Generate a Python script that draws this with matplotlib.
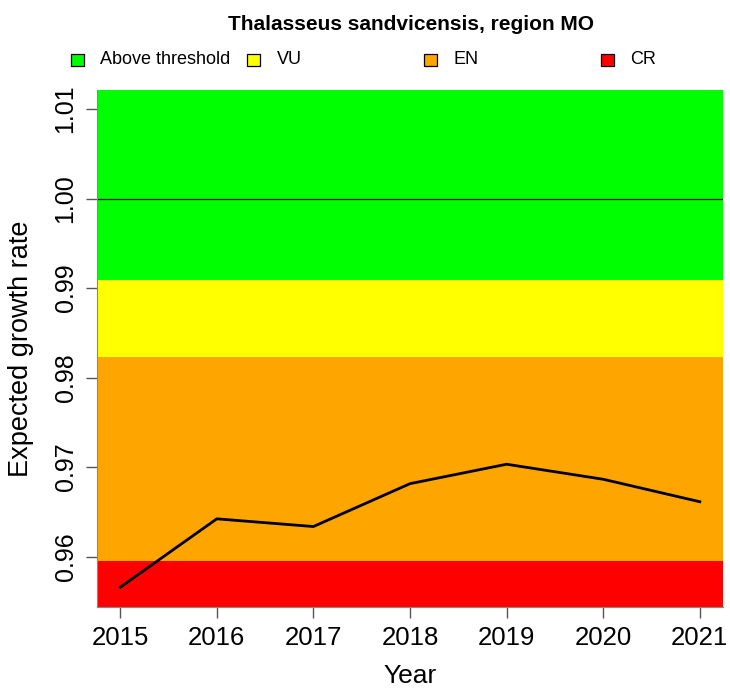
import matplotlib
matplotlib.use('Agg')
import matplotlib.pyplot as plt
import matplotlib.patches as mpatches
import numpy as np

plt.rcParams['font.family'] = ['Liberation Sans', 'DejaVu Sans']

years = [2015, 2016, 2017, 2018, 2019, 2020, 2021]
growth = [0.95657, 0.96422, 0.96336, 0.96815, 0.97032, 0.96864, 0.96613]

# category bands in growth-rate units
band_names = ["Above threshold", "VU", "EN", "CR"]
band_colors = ["#00FF00", "#FFFF00", "#FFA500", "#FF0000"]
band_edges = [0.99085, 0.98234, 0.95952]   # green/yellow, yellow/orange, orange/red
yticks = [0.96, 0.97, 0.98, 0.99, 1.00, 1.01]

YMIN, YMAX = 0.95437, 1.01213

fig = plt.figure(figsize=(7.3, 6.89), dpi=100)
ax = fig.add_axes([97 / 730, 1 - 607 / 689, (723 - 97) / 730, (607 - 90) / 689])

lows = [band_edges[0], band_edges[1], band_edges[2], YMIN]
highs = [YMAX, band_edges[0], band_edges[1], band_edges[2]]
for lo, hi, c in zip(lows, highs, band_colors):
    ax.axhspan(lo, hi, color=c, lw=0, zorder=1)

ax.axhline(1.0, color="black", lw=0.9, zorder=2)
ax.plot(years, growth, color="black", lw=2.0, zorder=3)

ax.set_xlim(years[0] - 0.24, years[-1] + 0.24)
ax.set_ylim(YMIN, YMAX)
ax.set_xticks(years)
ax.set_xticklabels([str(y) for y in years], fontsize=18.5)
ax.set_yticks(yticks)
ax.set_yticklabels(["%.2f" % t for t in yticks], fontsize=18, rotation=90, va="center")
ax.tick_params(length=8, width=1, color="#555555", pad=6)

for s in ["top", "right"]:
    ax.spines[s].set_visible(False)
for s in ["left", "bottom"]:
    ax.spines[s].set_color("#888888")

ax.set_xlabel("Year", fontsize=19, labelpad=10)
ax.set_ylabel("Expected growth rate", fontsize=19.5)
ax.yaxis.set_label_coords(-0.100, 0.5)

fig.text(411 / 730, 1 - 24 / 689, "Thalasseus sandvicensis, region MO",
         ha="center", va="center", fontsize=15, fontweight="bold")

# legend drawn as one row, equal column spacing like R's horiz legend
leg_x0, leg_dx, leg_y = 77, 176.7, 60
for i, (name, col) in enumerate(zip(band_names, band_colors)):
    cx = leg_x0 + i * leg_dx
    fig.patches.append(mpatches.Rectangle(
        ((cx - 6.5) / 730, 1 - (leg_y + 6) / 689), 13 / 730, 12 / 689,
        transform=fig.transFigure, facecolor=col, edgecolor="black", lw=0.9))
    fig.text((cx + 23) / 730, 1 - leg_y / 689, name,
             ha="left", va="center", fontsize=13)

fig.savefig("out.png", dpi=100, facecolor="white")
